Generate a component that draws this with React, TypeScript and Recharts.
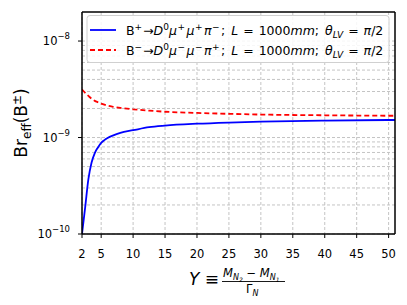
import { CartesianGrid, Line, LineChart, ReferenceLine, XAxis, YAxis } from "recharts";

// Y = (M_N2 - M_N1) / Gamma_N
const yRatio = [2, 2.5, 3, 3.5, 4, 4.5, 5, 5.5, 6, 7, 8, 10, 12.5, 15, 20, 25, 30, 40, 51];
// B+ -> D0 mu+ mu+ pi-
const brPlus = [
  1e-10, 1.9e-10, 3.7e-10, 5.5e-10, 6.9e-10, 7.9e-10, 8.8e-10, 9.4e-10, 9.9e-10, 1.06e-9,
  1.12e-9, 1.19e-9, 1.28e-9, 1.33e-9, 1.39e-9, 1.43e-9, 1.46e-9, 1.5e-9, 1.52e-9,
];
// B- -> D0 mu- mu- pi+
const brMinus = [
  3.15e-9, 2.9e-9, 2.7e-9, 2.52e-9, 2.4e-9, 2.32e-9, 2.25e-9, 2.19e-9, 2.14e-9, 2.08e-9,
  2.03e-9, 1.96e-9, 1.9e-9, 1.85e-9, 1.8e-9, 1.76e-9, 1.73e-9, 1.7e-9, 1.68e-9,
];

const xTicks = [2, 5, 10, 15, 20, 25, 30, 35, 40, 45, 50];
const yMajor = [1e-10, 1e-9, 1e-8];
const yMinor = [2, 3, 4, 5, 6, 7, 8, 9].flatMap((m) => [m * 1e-10, m * 1e-9]);

const data = yRatio.map((y, i) => ({ y, plus: brPlus[i], minus: brMinus[i] }));

const FONT = "'DejaVu Sans', sans-serif";
const GRID = "#c4c4c4";
const X_MAX = 51;
const Y_MIN = 1e-10;
const Y_MAX = 2e-8;

function YTick({ x, y, payload }: any) {
  const exp = Math.round(Math.log10(payload.value));
  return (
    <text x={x - 2} y={y + 4} textAnchor="end" fontFamily={FONT} fontSize={11.5} fill="#000">
      <tspan>10</tspan>
      <tspan dy={-6} fontSize={8.5}>{"\u2212" + Math.abs(exp)}</tspan>
    </text>
  );
}

function LegendRow({ y, sign, anti }: { y: number; sign: string; anti: string }) {
  return (
    <text x={126} y={y} fontFamily={FONT} fontSize={12.5} fill="#000">
      B<tspan dy={-5} fontSize={9}>{sign}</tspan><tspan dy={5} dx={1}>→</tspan>
      <tspan fontStyle="italic">D</tspan><tspan dy={-5} fontSize={9}>0</tspan>
      <tspan dy={5} fontStyle="italic">μ</tspan><tspan dy={-5} dx={0.5} fontSize={9}>{sign}</tspan>
      <tspan dy={5} dx={1.5} fontStyle="italic">μ</tspan><tspan dy={-5} dx={0.5} fontSize={9}>{sign}</tspan>
      <tspan dy={5} dx={1.5} fontStyle="italic">π</tspan><tspan dy={-5} dx={0.5} fontSize={9}>{anti}</tspan>
      <tspan dy={5} dx={1.5}>; </tspan><tspan dx={2} fontStyle="italic">L</tspan><tspan dx={1}> = </tspan>
      <tspan dx={1}>1000</tspan><tspan fontStyle="italic">mm</tspan><tspan>; </tspan>
      <tspan dx={2} fontStyle="italic">θ</tspan>
      <tspan dy={3} fontSize={9} fontStyle="italic">LV</tspan><tspan dy={-3} dx={1}> = </tspan>
      <tspan dx={1} fontStyle="italic">π</tspan><tspan>/2</tspan>
    </text>
  );
}

function Overlay() {
  return (
    <svg width={407} height={305} style={{ position: "absolute", left: 0, top: 0, pointerEvents: "none" }}>
      {/* legend */}
      <rect x={87} y={15.5} width={302} height={47} rx={3} fill="#fff" fillOpacity={0.85} stroke="#d0d0d0" />
      <line x1={90} x2={116} y1={30} y2={30} stroke="#0000ff" strokeWidth={1.8} />
      <line x1={90} x2={116} y1={50} y2={50} stroke="#ff0000" strokeWidth={1.8} strokeDasharray="5 3" />
      <LegendRow y={34.5} sign="+" anti={"\u2212"} />
      <LegendRow y={54.5} sign={"\u2212"} anti="+" />

      {/* y label */}
      <text transform="translate(27,123) rotate(-90)" textAnchor="middle" fontFamily={FONT} fontSize={17} fill="#000">
        Br<tspan dy={4} fontSize={12}>eff</tspan><tspan dy={-4}>(B</tspan>
        <tspan dy={-6} fontSize={12}>±</tspan><tspan dy={6}>)</tspan>
      </text>

      {/* x label */}
      <text x={189} y={285} fontFamily={FONT} fontSize={17} fill="#000">
        <tspan fontStyle="italic">Y</tspan><tspan> ≡ </tspan>
      </text>
      <text x={223} y={277} fontFamily={FONT} fontSize={11.5} fontStyle="italic" fill="#000">
        M<tspan dy={3} fontSize={8}>N</tspan><tspan dy={2} fontSize={6}>2</tspan>
        <tspan dy={-5} fontStyle="normal"> − </tspan>M<tspan dy={3} fontSize={8}>N</tspan>
        <tspan dy={2} fontSize={6}>1</tspan>
      </text>
      <line x1={222} x2={285} y1={281.5} y2={281.5} stroke="#000" strokeWidth={0.9} />
      <text x={246} y={292.5} fontFamily={FONT} fontSize={11.5} fill="#000">
        Γ<tspan dy={3} fontSize={8} fontStyle="italic">N</tspan>
      </text>
    </svg>
  );
}

export default function App() {
  return (
    <div style={{ position: "absolute", left: 0, top: 0, width: 407, height: 305, background: "#fff" }}>
      <LineChart width={407} height={305} data={data} margin={{ top: 12, right: 12, bottom: 0, left: 22 }}>
        <CartesianGrid stroke={GRID} strokeDasharray="3 2" horizontal={false} verticalValues={xTicks} />
        {yMinor.concat(yMajor).map((v) => (
          <ReferenceLine key={v} y={v} stroke={GRID} strokeDasharray="3 2" ifOverflow="discard" />
        ))}
        <XAxis
          dataKey="y"
          type="number"
          domain={[2, X_MAX]}
          ticks={xTicks}
          allowDataOverflow
          height={71}
          tickSize={4}
          tickMargin={12}
          stroke="#000"
          axisLine={{ stroke: "#000", strokeWidth: 1.5 }}
          tick={{ fontFamily: FONT, fontSize: 11.5, fill: "#000" }}
        />
        <YAxis
          scale="log"
          type="number"
          domain={[Y_MIN, Y_MAX]}
          ticks={yMajor}
          allowDataOverflow
          width={60}
          tickSize={4}
          tickMargin={6}
          stroke="#000"
          axisLine={{ stroke: "#000", strokeWidth: 1.5 }}
          tick={<YTick />}
        />
        <Line dataKey="minus" type="monotone" stroke="#ff0000" strokeWidth={1.8} strokeDasharray="5 3" dot={false} isAnimationActive={false} />
        <Line dataKey="plus" type="monotone" stroke="#0000ff" strokeWidth={1.8} dot={false} isAnimationActive={false} />
        {/* frame: top and right spines */}
        <ReferenceLine y={Y_MAX} stroke="#000" strokeWidth={1.5} />
        <ReferenceLine x={X_MAX} stroke="#000" strokeWidth={1.5} />
      </LineChart>
      <Overlay />
    </div>
  );
}
